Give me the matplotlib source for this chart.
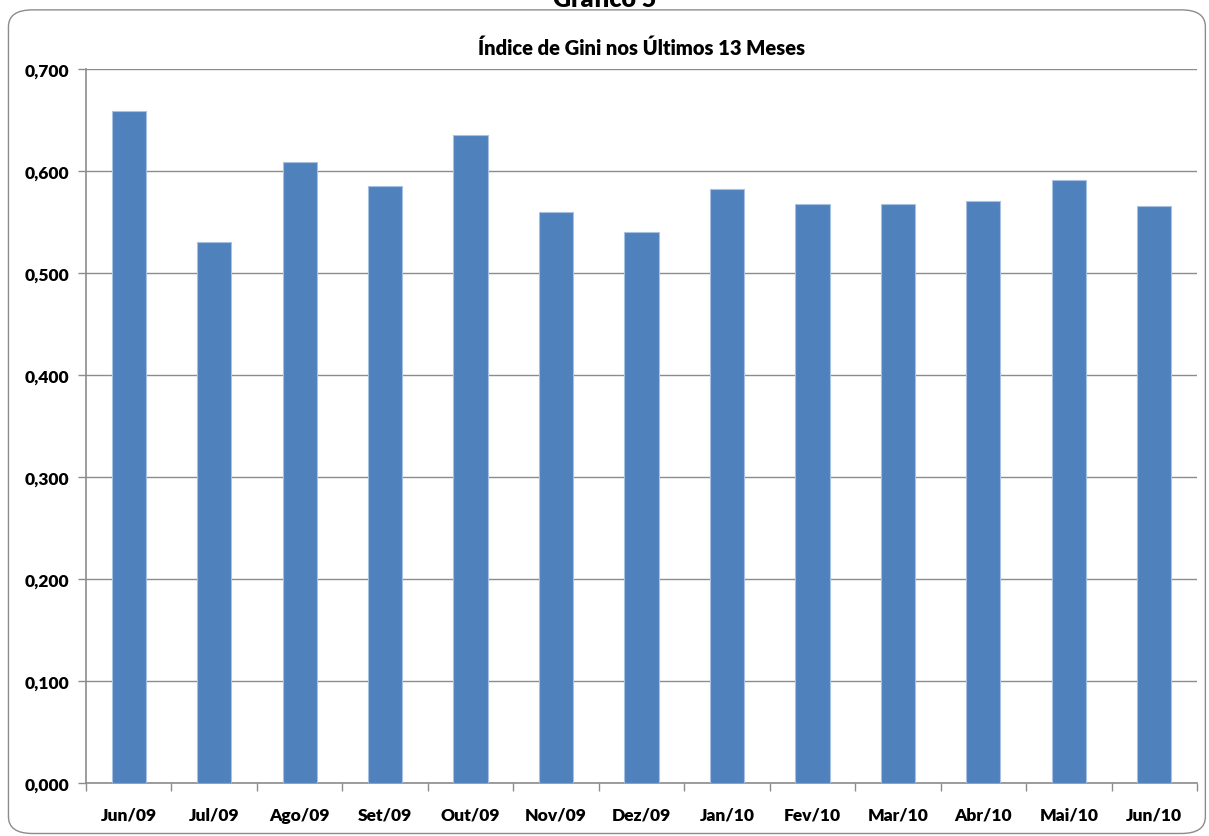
import matplotlib.pyplot as plt
from matplotlib.patches import FancyBboxPatch
from matplotlib.ticker import MultipleLocator, FuncFormatter

months = ["Jun/09", "Jul/09", "Ago/09", "Set/09", "Out/09", "Nov/09", "Dez/09",
          "Jan/10", "Fev/10", "Mar/10", "Abr/10", "Mai/10", "Jun/10"]
gini = [0.659, 0.530, 0.609, 0.585, 0.635, 0.560, 0.540,
        0.582, 0.568, 0.568, 0.571, 0.591, 0.566]

plt.rcParams['font.family'] = ['Lato', 'DejaVu Sans']

fig = plt.figure(figsize=(12.09, 8.37), dpi=100)

# rounded outer frame like the spreadsheet chart area
frame = FancyBboxPatch((0.007, 0.003), 0.99, 0.984,
                       boxstyle="round,pad=0,rounding_size=0.02",
                       transform=fig.transFigure, facecolor="white",
                       edgecolor="#8c8c8c", linewidth=1.0, zorder=-5)
fig.patches.append(frame)
# page caption above the chart, cut off at the top as in the source
fig.text(0.5, 1.0, "Gráfico 5", ha="center", va="center",
         fontsize=18, fontweight="heavy")

ax = fig.add_axes([0.0711, 0.0633, 0.9190, 0.8531])
ax.set_facecolor("none")
x = range(len(months))
ax.bar(x, gini, width=0.4, color="#4f81bd", edgecolor="#a9c1e0",
       linewidth=0.8, zorder=3)

ax.set_xlim(-0.5, len(months) - 0.5)
ax.set_ylim(0, 0.7)
ax.yaxis.set_major_locator(MultipleLocator(0.1))
ax.yaxis.set_major_formatter(FuncFormatter(lambda v, p: f"{v:.3f}".replace(".", ",")))
ax.grid(axis="y", color="#8c8c8c", linewidth=1.0, zorder=0)

ax.set_xticks(list(x))
ax.set_xticklabels(months)
ax.set_xticks([i + 0.5 for i in range(-1, len(months))], minor=True)
ax.tick_params(axis="x", which="major", length=0, pad=17)
ax.tick_params(axis="x", which="minor", length=6, color="#8c8c8c", width=1)
ax.tick_params(axis="y", length=6, color="#8c8c8c", width=1, pad=6)
for lab in ax.get_xticklabels() + ax.get_yticklabels():
    lab.set_fontweight("heavy")
    lab.set_fontsize(12.5)

for side in ["top", "right"]:
    ax.spines[side].set_visible(False)
for side in ["left", "bottom"]:
    ax.spines[side].set_color("#8c8c8c")
    ax.spines[side].set_linewidth(1.2)

ax.set_title("Índice de Gini nos Últimos 13 Meses", fontsize=14.5,
             fontweight="heavy", pad=11)

fig.savefig("out.png", dpi=100)
